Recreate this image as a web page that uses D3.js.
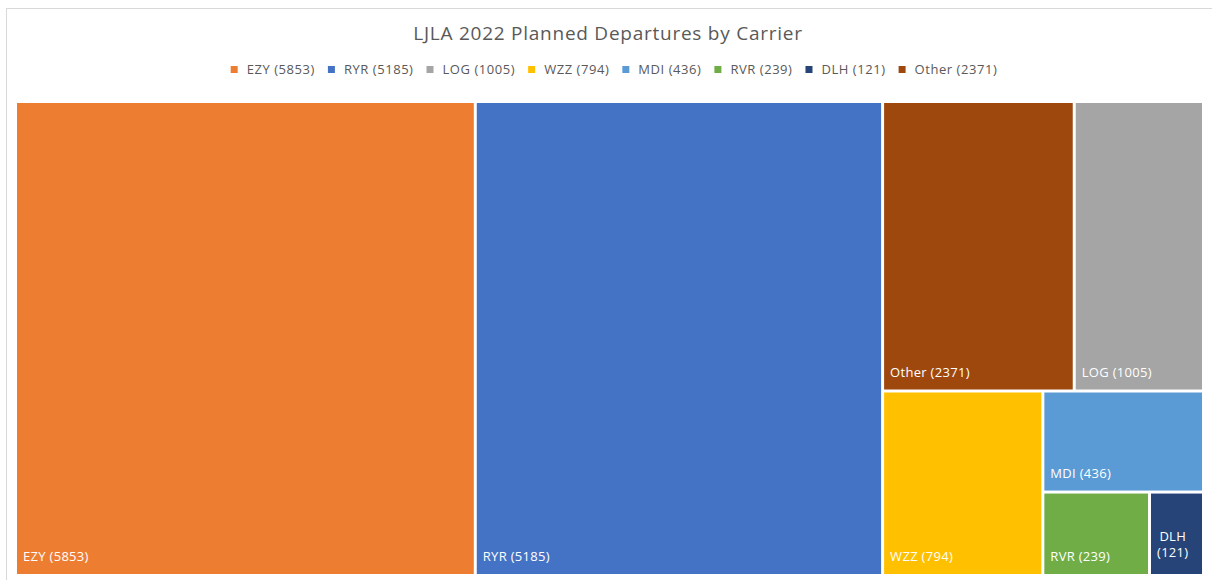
<!DOCTYPE html>
<html>
<head>
<meta charset="utf-8">
<script src="https://cdn.jsdelivr.net/npm/d3@7"></script>
<style>
  body { margin: 0; background: #fff; }
  svg { display: block; font-family: "Open Sans", sans-serif; }
</style>
</head>
<body>
<div id="chart"></div>
<script>
const carriers = ["EZY", "RYR", "LOG", "WZZ", "MDI", "RVR", "DLH", "Other"];
const departures = [5853, 5185, 1005, 794, 436, 239, 121, 2371];
// tile sizes as drawn (the "Other" tile is smaller than its label says)
const tileSizes = [5853, 5185, 1005, 794, 436, 239, 121, 1490];
const colors = ["#ED7D31", "#4472C4", "#A5A5A5", "#FFC000", "#5B9BD5", "#70AD47", "#264478", "#9E480E"];

const W = 1212, H = 580;
const margin = {top: 103, left: 17, right: 10, bottom: 6};
const width = W - margin.left - margin.right;
const height = H - margin.top - margin.bottom;

const svg = d3.select("#chart").append("svg")
    .attr("width", W)
    .attr("height", H);

// chart border
svg.append("rect")
    .attr("x", 6.5).attr("y", 8.5)
    .attr("width", 1230).attr("height", 620)
    .attr("fill", "none")
    .attr("stroke", "#d9d9d9");

svg.append("text")
    .attr("x", 608).attr("y", 40)
    .attr("text-anchor", "middle")
    .style("font-size", "19px")
    .style("letter-spacing", "0.75px")
    .style("fill", "#595959")
    .text("LJLA 2022 Planned Departures by Carrier");

const labels = carriers.map((c, i) => `${c} (${departures[i]})`);
const color = d3.scaleOrdinal().domain(carriers).range(colors);

// legend
const legend = svg.append("g");
let lx = 0;
carriers.forEach((c, i) => {
    const g = legend.append("g").attr("transform", `translate(${lx},0)`);
    g.append("rect")
        .attr("x", 0).attr("y", 66)
        .attr("width", 7).attr("height", 7)
        .attr("fill", color(c));
    const t = g.append("text")
        .attr("x", 16).attr("y", 74)
        .style("font-size", "13px")
        .style("letter-spacing", "0.55px")
        .style("fill", "#595959")
        .text(labels[i]);
    lx += 16 + t.node().getComputedTextLength() + 13;
});
const legendWidth = lx - 13;
legend.attr("transform", `translate(${614 - legendWidth / 2},0)`);

// treemap
const root = d3.hierarchy({children: carriers.map((c, i) => ({name: c, label: labels[i], size: tileSizes[i]}))})
    .sum(d => d.size || 0)
    .sort((a, b) => b.value - a.value);

d3.treemap()
    .tile(d3.treemapSquarify.ratio(1.2))
    .size([width, height])
    .paddingInner(3)(root);

const plot = svg.append("g")
    .attr("transform", `translate(${margin.left},${margin.top})`);

const cell = plot.selectAll("g.cell")
    .data(root.leaves())
    .join("g")
    .attr("class", "cell")
    .attr("transform", d => `translate(${d.x0},${d.y0})`);

cell.append("rect")
    .attr("width", d => d.x1 - d.x0)
    .attr("height", d => d.y1 - d.y0)
    .attr("fill", d => color(d.data.name));

cell.each(function(d) {
    const g = d3.select(this);
    const w = d.x1 - d.x0, h = d.y1 - d.y0;
    const t = g.append("text")
        .attr("x", 6).attr("y", h - 13)
        .style("font-size", "13px")
        .style("letter-spacing", "0.3px")
        .style("fill", "#fff")
        .text(d.data.label);
    if (t.node().getComputedTextLength() > w - 10) {
        // wrap narrow tiles: one text per word, lines centred on each other
        const words = d.data.label.split(" ");
        t.remove();
        const lh = 16;
        const y0 = h - 17 - lh * (words.length - 1);
        const lines = words.map((wd, k) => g.append("text")
            .attr("y", y0 + k * lh)
            .attr("text-anchor", "middle")
            .style("font-size", "13px")
            .style("letter-spacing", "0.3px")
            .style("fill", "#fff")
            .text(wd));
        const bw = d3.max(lines, l => l.node().getComputedTextLength());
        lines.forEach(l => l.attr("x", 6 + bw / 2));
    }
});
</script>
</body>
</html>
